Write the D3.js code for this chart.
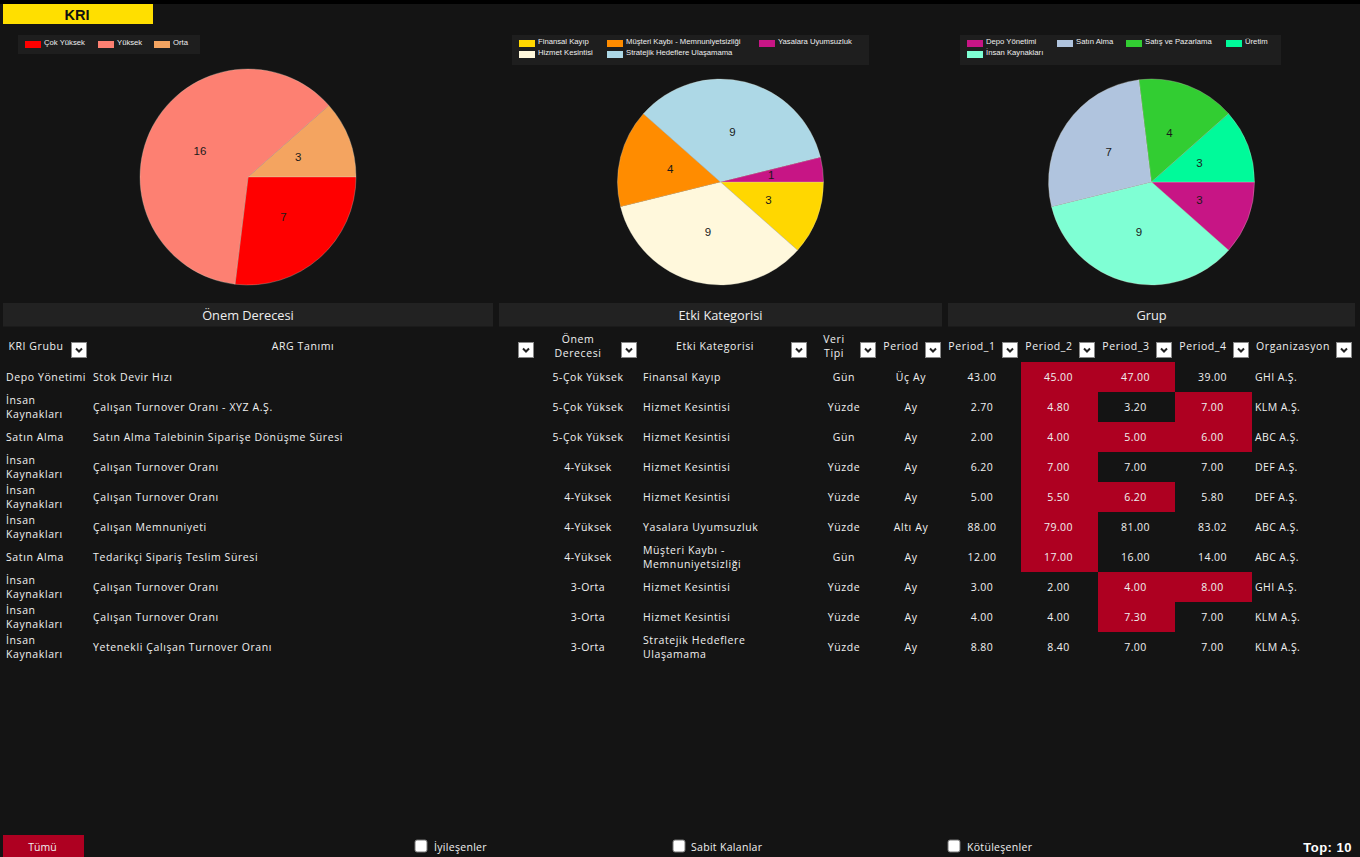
<!DOCTYPE html><html><head><meta charset="utf-8"><script src="https://cdnjs.cloudflare.com/ajax/libs/d3/7.8.5/d3.min.js"></script><style>html,body{margin:0;padding:0;background:#000;overflow:hidden}svg{display:block}</style></head><body><svg id="c" width="1360" height="857"></svg><script>
const severityLabels=["Orta","Çok Yüksek","Yüksek"],severityValues=[3,7,16],severityColors=["#f4a460","#ff0000","#fd8072"];
const severityLegend=[["Çok Yüksek","#ff0000"],["Yüksek","#fd8072"],["Orta","#f4a460"]];
const impactLabels=["Finansal Kayıp","Hizmet Kesintisi","Müşteri Kaybı - Memnuniyetsizliği","Stratejik Hedeflere Ulaşamama","Yasalara Uyumsuzluk"],impactValues=[3,9,4,9,1],impactColors=["#ffd700","#fff8dc","#ff8c00","#add8e6","#c71585"];
const impactLegend=[["Finansal Kayıp","#ffd700"],["Müşteri Kaybı - Memnuniyetsizliği","#ff8c00"],["Yasalara Uyumsuzluk","#c71585"],["Hizmet Kesintisi","#fff8dc"],["Stratejik Hedeflere Ulaşamama","#add8e6"]];
const groupLabels=["Depo Yönetimi","İnsan Kaynakları","Satın Alma","Satış ve Pazarlama","Üretim"],groupValues=[3,9,7,4,3],groupColors=["#c71585","#7fffd4","#b0c4de","#32cd32","#00fa9a"];
const groupLegend=[["Depo Yönetimi","#c71585"],["Satın Alma","#b0c4de"],["Satış ve Pazarlama","#32cd32"],["Üretim","#00fa9a"],["İnsan Kaynakları","#7fffd4"]];
const columns=["KRI Grubu","ARG Tanımı","Önem Derecesi","Etki Kategorisi","Veri Tipi","Period","Period_1","Period_2","Period_3","Period_4","Organizasyon"];
const colEdges=[3,90,535,640,810,878,945,1021,1098,1175,1252,1355];
const kriGroup=["Depo Yönetimi","İnsan Kaynakları","Satın Alma","İnsan Kaynakları","İnsan Kaynakları","İnsan Kaynakları","Satın Alma","İnsan Kaynakları","İnsan Kaynakları","İnsan Kaynakları"];
const argName=["Stok Devir Hızı","Çalışan Turnover Oranı - XYZ A.Ş.","Satın Alma Talebinin Siparişe Dönüşme Süresi","Çalışan Turnover Oranı","Çalışan Turnover Oranı","Çalışan Memnuniyeti","Tedarikçi Sipariş Teslim Süresi","Çalışan Turnover Oranı","Çalışan Turnover Oranı","Yetenekli Çalışan Turnover Oranı"];
const severity=["5-Çok Yüksek","5-Çok Yüksek","5-Çok Yüksek","4-Yüksek","4-Yüksek","4-Yüksek","4-Yüksek","3-Orta","3-Orta","3-Orta"];
const impact=["Finansal Kayıp","Hizmet Kesintisi","Hizmet Kesintisi","Hizmet Kesintisi","Hizmet Kesintisi","Yasalara Uyumsuzluk","Müşteri Kaybı - Memnuniyetsizliği","Hizmet Kesintisi","Hizmet Kesintisi","Stratejik Hedeflere Ulaşamama"];
const dataType=["Gün","Yüzde","Gün","Yüzde","Yüzde","Yüzde","Gün","Yüzde","Yüzde","Yüzde"];
const period=["Üç Ay","Ay","Ay","Ay","Ay","Altı Ay","Ay","Ay","Ay","Ay"];
const period1=[43,2.7,2,6.2,5,88,12,3,4,8.8];
const period2=[45,4.8,4,7,5.5,79,17,2,4,8.4];
const period3=[47,3.2,5,7,6.2,81,16,4,7.3,7];
const period4=[39,7,6,7,5.8,83.02,14,8,7,7];
const highlight2=[1,1,1,1,1,1,1,0,0,0],highlight3=[1,0,1,0,1,0,0,1,1,0],highlight4=[0,1,1,0,0,0,0,1,0,0];
const org=["GHI A.Ş.","KLM A.Ş.","ABC A.Ş.","DEF A.Ş.","DEF A.Ş.","ABC A.Ş.","ABC A.Ş.","GHI A.Ş.","KLM A.Ş.","KLM A.Ş."];
const sectionTitles=[["Önem Derecesi",3,493],["Etki Kategorisi",499,942],["Grup",948,1355]];
const filters=[["İyileşenler",415,434],["Sabit Kalanlar",673,691],["Kötüleşenler",948,967]];
const RED="#ae0021";
const svg=d3.select("#c"),F="'Open Sans','Noto Sans',sans-serif",L="'Liberation Sans',Arial,sans-serif";
svg.append("rect").attr("width",1360).attr("height",857).attr("fill","#000");
svg.append("rect").attr("y",4).attr("width",1360).attr("height",853).attr("fill","#141414");
svg.append("rect").attr("x",3).attr("y",4).attr("width",150).attr("height",20).attr("fill","#ffdf00");
svg.append("text").attr("x",77).attr("y",20).attr("text-anchor","middle").attr("font-family",L).attr("font-weight",700).attr("font-size",14.5).attr("fill","#111").text("KRI");
function pie(vals,cols,labs,cx,cy,r,start){
 const g=svg.append("g").attr("transform",`translate(${cx},${cy})`);
 const a=d3.pie().sort(null).startAngle(start).endAngle(start+2*Math.PI)(vals);
 const arc=d3.arc().innerRadius(0).outerRadius(r);
 g.selectAll("path").data(a).join("path").attr("d",arc).attr("fill",(d,i)=>cols[i]).attr("stroke","#d8d8c8").attr("stroke-width",.3);
 const la=d3.arc().innerRadius(r*.5).outerRadius(r*.5);
 g.selectAll("text").data(a).join("text").attr("transform",d=>{const c=la.centroid(d);return `translate(${c[0]-.3},${c[1]-.5})`}).attr("text-anchor","middle").attr("dy","0.35em").attr("font-family",L).attr("font-size",11.5).attr("fill","#1a1a1a").text(d=>d.value);
}
pie(severityValues,severityColors,severityLabels,248,177,108,Math.PI/2-2*Math.PI*3/26);
pie(impactValues,impactColors,impactLabels,720.5,182,103,Math.PI/2);
pie(groupValues,groupColors,groupLabels,1151.5,182,103,Math.PI/2);
function legend(x,y,w,h,items,pos){
 svg.append("rect").attr("x",x).attr("y",y).attr("width",w).attr("height",h).attr("fill","#1e1e1e");
 items.forEach((it,i)=>{const p=pos[i];
  svg.append("rect").attr("x",p[0]).attr("y",p[1]-2).attr("width",16).attr("height",7).attr("fill",it[1]);
  svg.append("text").attr("x",p[0]+19).attr("y",p[1]-.8).attr("dy","0.35em").attr("font-family",L).attr("font-size",7.7).attr("fill","#eee").text(it[0]);
 });
}
legend(18,35,182,19,severityLegend,[[25,43],[98,43],[154,43]]);
legend(512,35,357,30,impactLegend,[[519,42],[607,42],[759,42],[519,53],[607,53]]);
legend(960,35,321,30,groupLegend,[[967,42],[1057,42],[1126,42],[1226,42],[967,53]]);
sectionTitles.forEach(t=>{svg.append("rect").attr("x",t[1]).attr("y",303).attr("width",t[2]-t[1]).attr("height",23.5).attr("fill","#222");
 svg.append("text").attr("x",(t[1]+t[2])/2).attr("y",320).attr("text-anchor","middle").attr("font-family",F).attr("font-size",12.8).attr("fill","#eee").text(t[0]);});
const rowH=30,rowY=d3.scaleBand().domain(d3.range(10)).range([362,662]);
const tx=(s,x,y,a,fs,ls)=>svg.append("text").attr("x",x).attr("y",y).attr("text-anchor",a||"start").attr("font-family",F).attr("font-size",fs||10.5).attr("letter-spacing",ls===undefined?.6:ls).attr("fill","#f0f0f0").text(s);
function wrapped(lines,x,cy,a){lines.forEach((l,i)=>tx(l,x,cy+(i-(lines.length-1)/2)*14+3.5,a));}
const heads=[[36,"KRI Grubu"],[303,"ARG Tanımı"],[578,"Önem|Derecesi"],[715,"Etki Kategorisi"],[834,"Veri|Tipi"],[901,"Period"],[972,"Period_1"],[1049,"Period_2"],[1126,"Period_3"],[1203,"Period_4"],[1293,"Organizasyon"]];
const btns=[79,526,629,799,868,933,1010,1087,1164,1241,1344];
heads.forEach((h,i)=>{wrapped(h[1].split("|"),h[0],346.8,"middle");
 const g=svg.append("g").attr("transform",`translate(${btns[i]-8},342)`);
 g.append("rect").attr("x",.5).attr("y",.5).attr("width",15).attr("height",15).attr("fill","#fff").attr("stroke","#888");
 g.append("path").attr("d","M5 6.5L8 9.5L11 6.5").attr("fill","none").attr("stroke","#222").attr("stroke-width",2);});
const wrapMap={"İnsan Kaynakları":["İnsan","Kaynakları"],"Müşteri Kaybı - Memnuniyetsizliği":["Müşteri Kaybı -","Memnuniyetsizliği"],"Stratejik Hedeflere Ulaşamama":["Stratejik Hedeflere","Ulaşamama"]};
const hl=[null,highlight2,highlight3,highlight4],ps=[period1,period2,period3,period4];
d3.range(10).forEach(i=>{const y=rowY(i),c=y+rowH/2;
 ps.forEach((p,j)=>{const x0=colEdges[6+j],x1=colEdges[7+j];
  if(hl[j]&&hl[j][i])svg.append("rect").attr("x",x0).attr("y",y).attr("width",x1-x0).attr("height",rowH).attr("fill",RED);
  tx(d3.format(".2f")(p[i]),(x0+x1)/2-1,c+3.5,"middle",10.5,.4);});
 wrapped(wrapMap[kriGroup[i]]||[kriGroup[i]],6,c);
 tx(argName[i],93,c+3.5);
 tx(severity[i],588,c+3.5,"middle",10.5,.5);
 wrapped(wrapMap[impact[i]]||[impact[i]],643,c);
 tx(dataType[i],844,c+3.5,"middle");tx(period[i],911,c+3.5,"middle");
 tx(org[i],1255,c+3.5,"start",10.5,.4);
});
svg.append("rect").attr("x",3).attr("y",835).attr("width",81).attr("height",22).attr("fill",RED);
tx("Tümü",42.5,851,"middle",10.5,0);
filters.forEach(f=>{svg.append("rect").attr("x",f[1]).attr("y",840).attr("width",12).attr("height",12).attr("rx",2).attr("fill","#fff").attr("stroke","#777");
 tx(f[0],f[2],851,"start",10.5,.3);});
svg.append("text").attr("x",1352).attr("y",852).attr("text-anchor","end").attr("font-family",L).attr("font-weight",700).attr("font-size",13).attr("letter-spacing",.5).attr("fill","#fff").text("Top: 10");
</script></body></html>
